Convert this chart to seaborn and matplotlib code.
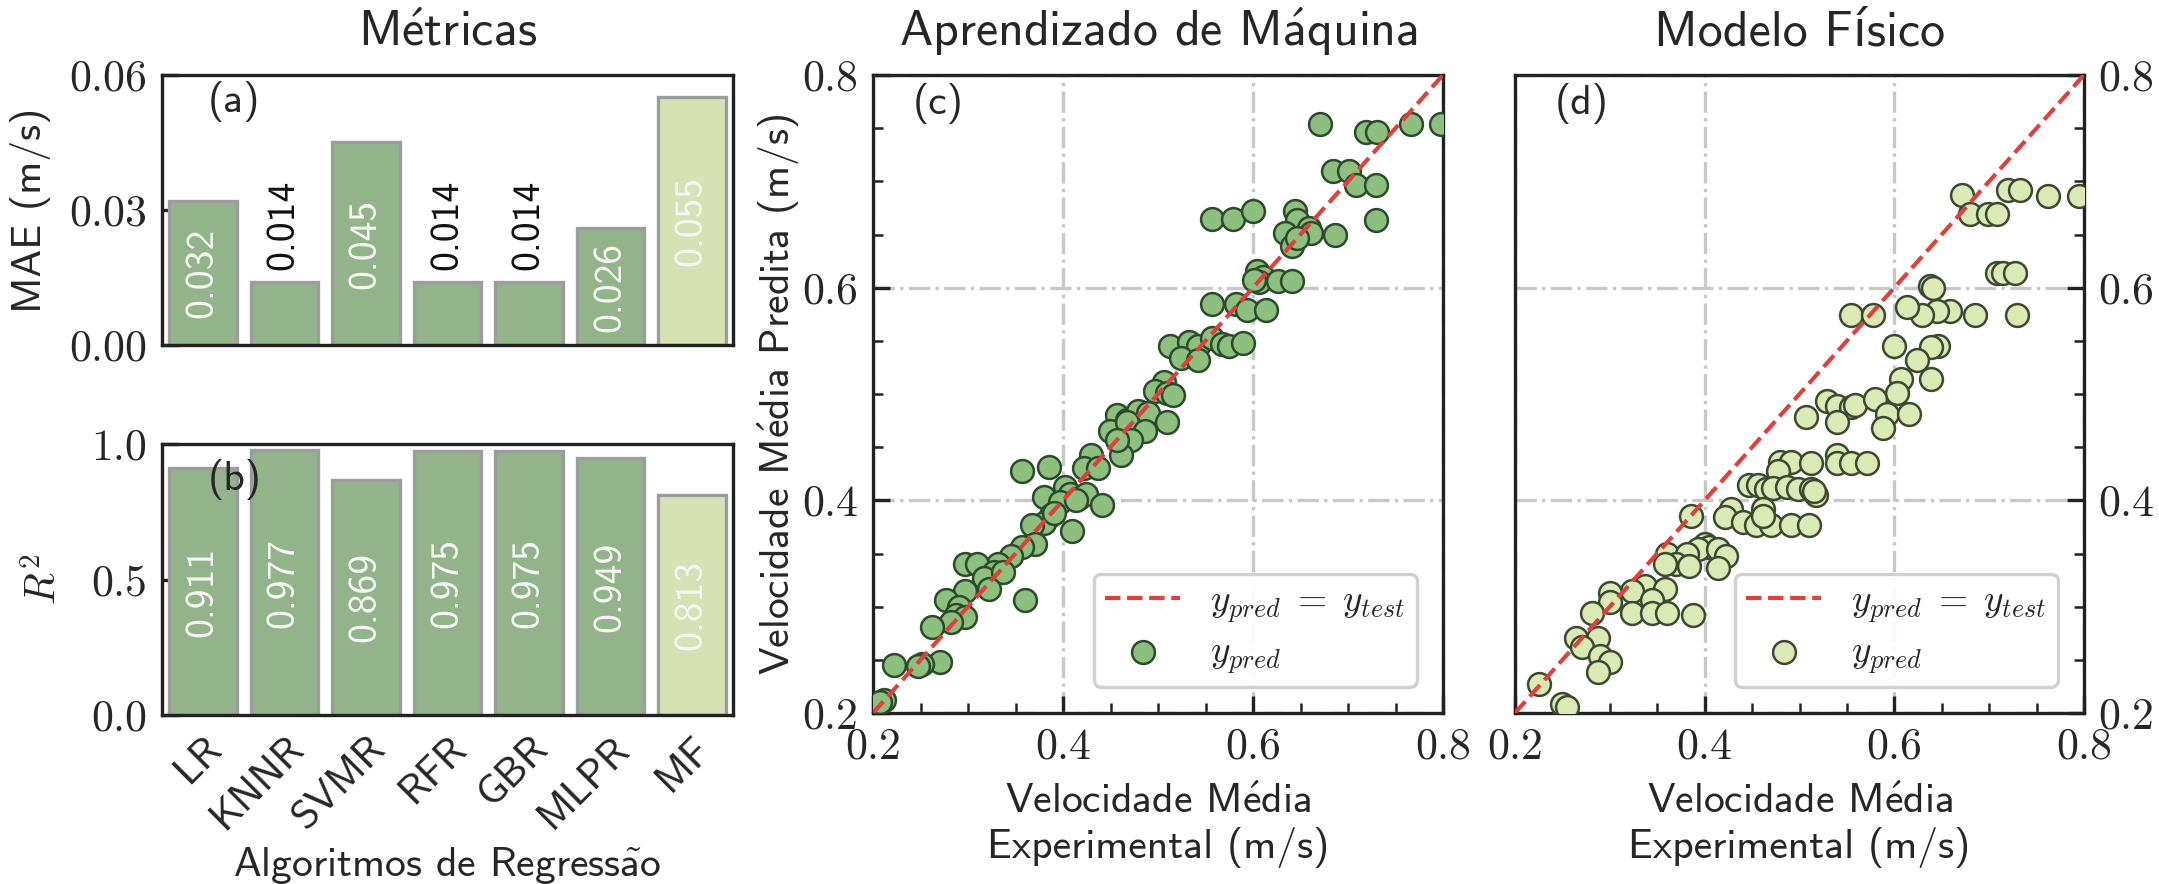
import matplotlib
matplotlib.use("Agg")
import numpy as np
import pandas as pd
import matplotlib.pyplot as plt
import seaborn as sns
from matplotlib.ticker import MultipleLocator

# ---------------- data ----------------
models = ["LR", "KNNR", "SVMR", "RFR", "GBR", "MLPR", "MF"]
mae = [0.032, 0.014, 0.045, 0.014, 0.014, 0.026, 0.055]
r2 = [0.911, 0.977, 0.869, 0.975, 0.975, 0.949, 0.813]
bar_colors = ["#93b38a"] * 6 + ["#d6e2b4"]

mae_ticks = [0.00, 0.03, 0.06]
mae_ticklabels = ["0.00", "0.03", "0.06"]
r2_ticks = [0.0, 0.5, 1.0]
r2_ticklabels = ["0.0", "0.5", "1.0"]
vel_ticks = [0.2, 0.4, 0.6, 0.8]
vel_ticklabels = ["0.2", "0.4", "0.6", "0.8"]

# (c) machine learning: experimental vs predicted
ml_exp = [0.671, 0.719, 0.731, 0.766, 0.798, 0.684, 0.701, 0.708, 0.729, 0.729,
          0.686, 0.557, 0.579, 0.600, 0.644, 0.646, 0.634, 0.659, 0.661, 0.641,
          0.646, 0.604, 0.611, 0.606, 0.626, 0.641, 0.601, 0.557, 0.582, 0.594,
          0.614, 0.513, 0.533, 0.542, 0.557, 0.567, 0.575, 0.589, 0.524, 0.542,
          0.506, 0.497, 0.509, 0.516, 0.457, 0.449, 0.467, 0.479, 0.489, 0.467,
          0.486, 0.509, 0.472, 0.461, 0.457, 0.429, 0.422, 0.437, 0.357, 0.385,
          0.380, 0.402, 0.407, 0.417, 0.424, 0.397, 0.414, 0.441, 0.387, 0.380,
          0.367, 0.390, 0.409, 0.370, 0.357, 0.345, 0.332, 0.297, 0.309, 0.327,
          0.317, 0.337, 0.322, 0.297, 0.277, 0.290, 0.360, 0.287, 0.297, 0.282,
          0.262, 0.270, 0.252, 0.222, 0.247, 0.212, 0.207]
ml_pred = [0.754, 0.746, 0.746, 0.754, 0.754, 0.710, 0.710, 0.697, 0.697, 0.664,
           0.650, 0.665, 0.665, 0.672, 0.672, 0.664, 0.651, 0.656, 0.651, 0.639,
           0.647, 0.616, 0.610, 0.605, 0.606, 0.606, 0.607, 0.585, 0.585, 0.579,
           0.579, 0.545, 0.549, 0.545, 0.553, 0.547, 0.545, 0.548, 0.534, 0.532,
           0.511, 0.503, 0.501, 0.499, 0.480, 0.465, 0.476, 0.484, 0.482, 0.474,
           0.465, 0.474, 0.457, 0.443, 0.457, 0.443, 0.430, 0.430, 0.428, 0.431,
           0.403, 0.413, 0.406, 0.402, 0.406, 0.398, 0.400, 0.396, 0.386, 0.379,
           0.377, 0.388, 0.371, 0.359, 0.356, 0.348, 0.340, 0.340, 0.340, 0.333,
           0.327, 0.333, 0.317, 0.315, 0.306, 0.300, 0.306, 0.292, 0.290, 0.286,
           0.281, 0.248, 0.246, 0.245, 0.244, 0.212, 0.210]

# (d) physical model: experimental vs predicted
mf_exp = [0.671, 0.680, 0.699, 0.708, 0.720, 0.732, 0.762, 0.795, 0.708, 0.715,
          0.727, 0.638, 0.641, 0.729, 0.685, 0.659, 0.645, 0.629, 0.613, 0.554,
          0.578, 0.600, 0.646, 0.639, 0.624, 0.607, 0.639, 0.603, 0.529, 0.540,
          0.554, 0.559, 0.580, 0.592, 0.615, 0.588, 0.507, 0.540, 0.479, 0.491,
          0.512, 0.540, 0.540, 0.554, 0.571, 0.477, 0.447, 0.456, 0.465, 0.472,
          0.487, 0.498, 0.512, 0.517, 0.515, 0.386, 0.428, 0.421, 0.461, 0.440,
          0.454, 0.470, 0.491, 0.510, 0.461, 0.400, 0.405, 0.393, 0.414, 0.423,
          0.360, 0.381, 0.370, 0.358, 0.384, 0.414, 0.337, 0.358, 0.323, 0.344,
          0.300, 0.300, 0.323, 0.344, 0.360, 0.388, 0.281, 0.264, 0.288, 0.271,
          0.290, 0.300, 0.288, 0.225, 0.250, 0.255]
mf_pred = [0.687, 0.669, 0.669, 0.669, 0.692, 0.692, 0.686, 0.686, 0.614, 0.614,
           0.614, 0.602, 0.600, 0.574, 0.574, 0.578, 0.578, 0.574, 0.582, 0.574,
           0.574, 0.545, 0.545, 0.544, 0.532, 0.514, 0.514, 0.501, 0.493, 0.489,
           0.488, 0.490, 0.495, 0.481, 0.481, 0.468, 0.478, 0.474, 0.436, 0.436,
           0.435, 0.443, 0.435, 0.435, 0.435, 0.428, 0.414, 0.414, 0.411, 0.412,
           0.413, 0.411, 0.411, 0.405, 0.409, 0.385, 0.392, 0.384, 0.392, 0.380,
           0.377, 0.377, 0.377, 0.377, 0.385, 0.359, 0.356, 0.354, 0.354, 0.348,
           0.350, 0.350, 0.340, 0.340, 0.338, 0.336, 0.319, 0.317, 0.315, 0.306,
           0.313, 0.304, 0.294, 0.294, 0.294, 0.292, 0.294, 0.271, 0.271, 0.262,
           0.254, 0.248, 0.239, 0.227, 0.208, 0.206]

ideal = [0.2, 0.8]

# accented letters drawn in Computer Modern Sans via mathtext
E_ACUTE = r"$\mathsf{\acute{e}}$"
A_ACUTE = r"$\mathsf{\acute{a}}$"
A_TILDE = r"$\mathsf{\tilde{a}}$"

title_a = "M" + E_ACUTE + "tricas"
title_c = "Aprendizado de M" + A_ACUTE + "quina"
title_d = "Modelo Físico"
xlabel_b = "Algoritmos de Regress" + A_TILDE + "o"
ylabel_c = "Velocidade M" + E_ACUTE + "dia Predita (m/s)"
xlabel_cd = "Velocidade M" + E_ACUTE + "dia\nExperimental (m/s)"

# ---------------- style ----------------
sns.set_theme(style="ticks")
plt.rcParams["font.family"] = ["cmss10", "DejaVu Sans"]
plt.rcParams["mathtext.fontset"] = "cm"
plt.rcParams["axes.unicode_minus"] = False
plt.rcParams["axes.linewidth"] = 0.8
plt.rcParams["axes.edgecolor"] = "#222222"

TICKFONT = "cmr10"
fig = plt.figure(figsize=(2159 / 300, 884 / 300), dpi=300)

W, H = 2159, 884
def box(l, t, r, b):
    return [l / W, 1 - b / H, (r - l) / W, (b - t) / H]

ax_a = fig.add_axes(box(162, 75, 733, 345))
ax_b = fig.add_axes(box(162, 444, 733, 715))
ax_c = fig.add_axes(box(873, 75, 1443, 713))
ax_d = fig.add_axes(box(1515, 75, 2084, 713))

# ---------------- bar panels ----------------
def bar_panel(ax, vals, ymax, ticks, ticklabels, ylabel, ylab_x, letter, letter_y, show_x):
    df = pd.DataFrame({"model": models, "val": vals})
    sns.barplot(data=df, x="model", y="val", hue="model",
                palette=dict(zip(models, bar_colors)), legend=False,
                width=0.83, saturation=1, edgecolor="#9c9c9c", linewidth=0.8,
                ax=ax, zorder=2)
    ax.set_xlim(-0.5, len(models) - 0.5)
    ax.set_ylim(0, ymax)
    ax.set_yticks(ticks, ticklabels, fontfamily=TICKFONT, fontsize=10.5)
    ax.tick_params(axis="both", direction="in", length=4, width=0.8,
                   color="#222222", top=False, right=False, zorder=5)
    ax.set_ylabel(ylabel, fontsize=10)
    ax.yaxis.set_label_coords(ylab_x, 0.5)
    ax.set_xlabel("")
    if show_x:
        ax.set_xticks(range(len(models)), models, rotation=45, ha="right",
                      rotation_mode="anchor", fontsize=10)
        ax.set_xlabel(xlabel_b, fontsize=10, labelpad=2)
    else:
        ax.set_xticks(range(len(models)), [""] * len(models))
    for i, v in enumerate(vals):
        if v / ymax < 0.3:
            ax.annotate(f"{v:.3f}", (i, v), xytext=(0, 3), textcoords="offset points",
                        rotation=90, ha="center", va="bottom", fontsize=9.5,
                        color="#111111")
        else:
            ax.text(i, v / 2, f"{v:.3f}", rotation=90, ha="center", va="center",
                    fontsize=9.5, color="#f4f7f2", zorder=4)
    ax.text(0.08, letter_y, letter, transform=ax.transAxes,
            fontsize=10, ha="left", va="center", zorder=6)

bar_panel(ax_a, mae, 0.06, mae_ticks, mae_ticklabels, "MAE (m/s)", -0.195, "(a)", 0.9, False)
bar_panel(ax_b, r2, 1.0, r2_ticks, r2_ticklabels, r"$R^2$", -0.17, "(b)", 0.87, True)
ax_a.set_title(title_a, fontsize=12, pad=7)

# ---------------- scatter panels ----------------
def scatter_panel(ax, xs, ys, face, edge, title, letter, right):
    ax.set_xlim(0.2, 0.8)
    ax.set_ylim(0.2, 0.8)
    ax.grid(True, which="major", linestyle="-.", color="#c8c8c8", linewidth=0.8, zorder=0)
    sns.lineplot(x=ideal, y=ideal, color="#e0403c", linestyle="--", linewidth=1.0,
                 label=r"$y_{pred}\;=\;y_{test}$", ax=ax, zorder=4)
    sns.scatterplot(x=xs, y=ys, s=30, color=face, edgecolor=edge, linewidth=0.6,
                    label=r"$y_{pred}$", ax=ax, zorder=3)
    ax.set_xticks(vel_ticks, vel_ticklabels, fontfamily=TICKFONT, fontsize=10.5)
    ax.set_yticks(vel_ticks, vel_ticklabels, fontfamily=TICKFONT, fontsize=10.5)
    ax.xaxis.set_minor_locator(MultipleLocator(0.05))
    ax.yaxis.set_minor_locator(MultipleLocator(0.05))
    ax.tick_params(which="major", direction="in", length=4, width=0.8, color="#222222")
    ax.tick_params(which="minor", direction="in", length=2.5, width=0.6, color="#222222")
    if right:
        ax.tick_params(which="both", left=False, right=True, labelleft=False,
                       labelright=True, top=False)
    else:
        ax.tick_params(which="both", left=True, right=False, top=False)
        ax.set_ylabel(ylabel_c, fontsize=10)
        ax.yaxis.set_label_coords(-0.125, 0.5)
    ax.set_xlabel(xlabel_cd, fontsize=10, labelpad=4)
    ax.set_title(title, fontsize=12, pad=7)
    ax.text(0.07, 0.955, letter, transform=ax.transAxes, fontsize=10,
            ha="left", va="center", zorder=6)
    leg = ax.legend(loc="lower right", fontsize=9, frameon=True, fancybox=True,
                    edgecolor="#cccccc", framealpha=0.9, borderaxespad=0.7,
                    handlelength=2.0, handletextpad=0.8, labelspacing=0.3,
                    borderpad=0.3)
    leg.get_frame().set_linewidth(0.8)

scatter_panel(ax_c, ml_exp, ml_pred, "#8dc07f", "#2c4a2c", title_c, "(c)", False)
scatter_panel(ax_d, mf_exp, mf_pred, "#dbe9b5", "#3a4a30", title_d, "(d)", True)

fig.savefig("out.png", dpi=300)
